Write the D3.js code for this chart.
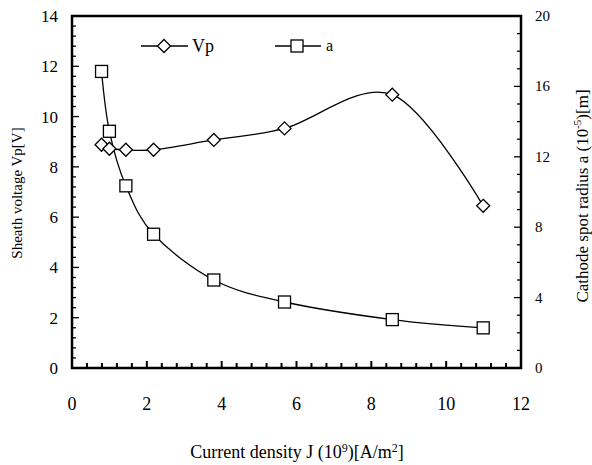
<!DOCTYPE html>
<html><head><meta charset="utf-8">
<script src="https://cdn.jsdelivr.net/npm/d3@7"></script>
<style>body{margin:0;background:#fff}svg{display:block}</style>
</head><body><svg id="c" width="592" height="465" font-family="'Liberation Serif', 'Times New Roman', 'DejaVu Serif', serif"></svg>
<script>
const jValues = [0.79, 1.0, 1.44, 2.18, 3.79, 5.68, 8.56, 10.99];
const vpValues = [8.88, 8.72, 8.68, 8.68, 9.07, 9.53, 10.87, 6.45];
const aValues = [16.85, 13.45, 10.35, 7.6, 5.0, 3.75, 2.75, 2.28];
const xTicks = [0, 2, 4, 6, 8, 10, 12];
const yLeftTicks = [0, 2, 4, 6, 8, 10, 12, 14];
const yRightTicks = [0, 4, 8, 12, 16, 20];

const FONT = "'Liberation Serif', 'Times New Roman', 'DejaVu Serif', serif";
const svg = d3.select("#c");
const L = 72, R = 521, T = 16, B = 368;
const x = d3.scaleLinear().domain([0, 12]).range([L, R]);
const yl = d3.scaleLinear().domain([0, 14]).range([B, T]);
const yr = d3.scaleLinear().domain([0, 20]).range([B, T]);

const g = svg.append("g");
d3.range(0, 12.001, 0.4).forEach(v => {
  g.append("line").attr("x1", x(v)).attr("x2", x(v)).attr("y1", B).attr("y2", B - (Math.abs(v/2 - Math.round(v/2)) < 1e-6 ? 7 : 5)).attr("stroke", "#000").attr("stroke-width", 2);
});
d3.range(0, 14.001, 0.4).forEach(v => {
  g.append("line").attr("x1", L).attr("x2", L + (Math.abs(v/2 - Math.round(v/2)) < 1e-6 ? 7 : 4)).attr("y1", yl(v)).attr("y2", yl(v)).attr("stroke", "#000").attr("stroke-width", 1.3);
});
d3.range(0, 20.001, 1).forEach(v => {
  g.append("line").attr("x1", R).attr("x2", R - (v % 4 === 0 ? 7 : 4)).attr("y1", yr(v)).attr("y2", yr(v)).attr("stroke", "#000").attr("stroke-width", 1.3);
});

svg.append("rect").attr("x", L).attr("y", T).attr("width", R - L).attr("height", B - T).attr("fill", "none").attr("stroke", "#000").attr("stroke-width", 2.5);

const txt = () => svg.append("text").attr("font-family", FONT).attr("fill", "#000");

xTicks.forEach(d => txt().attr("x", x(d)).attr("y", 410).attr("text-anchor", "middle").attr("font-size", 18).text(d));
yLeftTicks.forEach(d => txt().attr("x", 58).attr("y", yl(d) + 6).attr("text-anchor", "end").attr("font-size", 17).text(d));
yRightTicks.forEach(d => txt().attr("x", 535).attr("y", yr(d) + 5).attr("text-anchor", "start").attr("font-size", 15).text(d));

txt().attr("transform", "translate(22,193) rotate(-90)").attr("text-anchor", "middle").attr("font-size", 15).text("Sheath voltage Vp[V]");
const rt = txt().attr("transform", "translate(588,196) rotate(-90)").attr("text-anchor", "middle").attr("font-size", 17);
rt.append("tspan").text("Cathode spot radius a (10");
rt.append("tspan").attr("dy", -7).attr("font-size", 11).text("-5");
rt.append("tspan").attr("dy", 7).text(")[m]");
const bt = txt().attr("x", 297).attr("y", 458).attr("text-anchor", "middle").attr("font-size", 18);
bt.append("tspan").text("Current density J (10");
bt.append("tspan").attr("dy", -6).attr("font-size", 12).text("9");
bt.append("tspan").attr("dy", 6).text(")[A/m");
bt.append("tspan").attr("dy", -6).attr("font-size", 12).text("2");
bt.append("tspan").attr("dy", 6).text("]");

const curve = d3.curveCatmullRom.alpha(0);
const vpData = jValues.map((j, i) => [j, vpValues[i]]);
const aData = jValues.map((j, i) => [j, aValues[i]]);
svg.append("path").attr("d", d3.line().x(d => x(d[0])).y(d => yl(d[1])).curve(curve)(vpData)).attr("fill", "none").attr("stroke", "#000").attr("stroke-width", 1.3);
svg.append("path").attr("d", d3.line().x(d => x(d[0])).y(d => yr(d[1])).curve(curve)(aData)).attr("fill", "none").attr("stroke", "#000").attr("stroke-width", 1.3);

const diamond = (cx, cy, s) => `M${cx},${cy - s}L${cx + s},${cy}L${cx},${cy + s}L${cx - s},${cy}Z`;
svg.selectAll(".vp").data(vpData).enter().append("path").attr("d", d => diamond(x(d[0]), yl(d[1]), 6.5)).attr("fill", "#fff").attr("stroke", "#000").attr("stroke-width", 1.3);
svg.selectAll(".a").data(aData).enter().append("rect").attr("x", d => x(d[0]) - 6).attr("y", d => yr(d[1]) - 6).attr("width", 12).attr("height", 12).attr("fill", "#fff").attr("stroke", "#000").attr("stroke-width", 1.3);

svg.append("line").attr("x1", 141).attr("x2", 188).attr("y1", 46).attr("y2", 46).attr("stroke", "#000").attr("stroke-width", 1.3);
svg.append("path").attr("d", diamond(164, 46, 6.5)).attr("fill", "#fff").attr("stroke", "#000").attr("stroke-width", 1.3);
txt().attr("x", 192).attr("y", 52).attr("font-size", 18).text("Vp");
svg.append("line").attr("x1", 275).attr("x2", 321).attr("y1", 46).attr("y2", 46).attr("stroke", "#000").attr("stroke-width", 1.3);
svg.append("rect").attr("x", 291).attr("y", 40).attr("width", 12).attr("height", 12).attr("fill", "#fff").attr("stroke", "#000").attr("stroke-width", 1.3);
txt().attr("x", 326).attr("y", 51).attr("font-size", 16).text("a");
</script></body></html>
